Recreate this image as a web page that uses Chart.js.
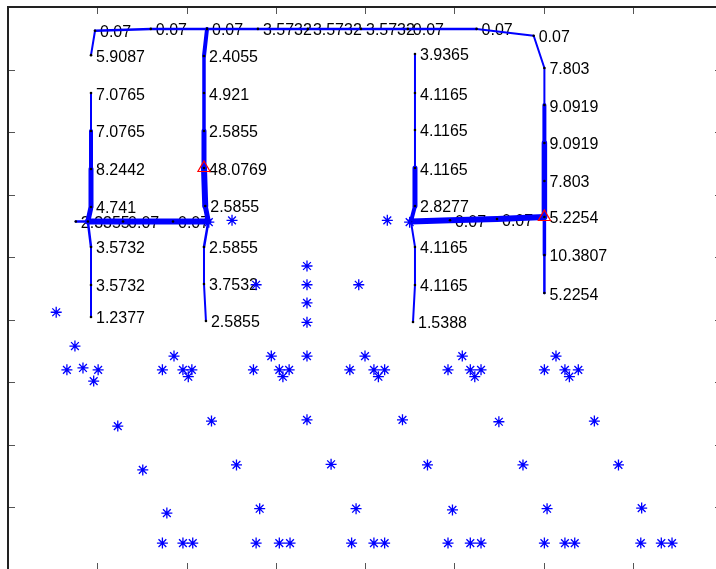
<!DOCTYPE html>
<html>
<head>
<meta charset="utf-8">
<script src="https://cdn.jsdelivr.net/npm/chart.js@4.4.0/dist/chart.umd.min.js"></script>
<style>
  html, body { margin: 0; padding: 0; background: #fff; width: 716px; height: 569px; overflow: hidden; }
  #wrap { position: absolute; left: 0; top: 0; width: 740px; height: 590px; }
</style>
</head>
<body>
<div id="wrap"><canvas id="c" width="740" height="590"></canvas></div>
<script>
// Axis frame: x runs 0..8, y runs 0 (top) .. 9 (bottom)
const xTicks = [1, 2, 3, 4, 5, 6, 7];
const yTicks = [1, 2, 3, 4, 5, 6, 7, 8];

// Upper route: head of the left branch, across the top, then down the right column
const routeTopX = [0.93, 0.975, 1.60, 2.23, 2.80, 3.36, 3.955, 4.48, 5.25, 5.89, 6.01, 6.01, 6.01, 6.01, 6.01, 6.01, 6.01];
const routeTopY = [0.77, 0.38, 0.35, 0.35, 0.35, 0.35, 0.35, 0.35, 0.35, 0.46, 0.975, 1.567, 2.174, 2.781, 3.357, 3.964, 4.572];
const routeTopLabels = ['5.9087', '0.07', '0.07', '0.07', '3.5732', '3.5732', '3.5732', '0.07', '0.07', '0.07',
                        '7.803', '9.0919', '9.0919', '7.803', '5.2254', '10.3807', '5.2254'];
const routeTopWidths = [2, 2.5, 2.5, 2.5, 2.5, 2.5, 2.5, 2.5, 2, 2, 2, 4, 5.5, 5.5, 3.5, 2.5];

// Left column
const routeAX = [0.93, 0.93, 0.93, 0.93, 0.895, 0.93, 0.93, 0.93];
const routeAY = [1.375, 1.982, 2.589, 3.197, 3.43, 3.836, 4.444, 4.955];
const routeALabels = ['7.0765', '7.0765', '8.2442', '4.741', null, '3.5732', '3.5732', '1.2377'];
const routeAWidths = [2, 4, 5, 5, 2.5, 2, 2];

// Second column
const routeBX = [2.23, 2.196, 2.196, 2.196, 2.196, 2.21, 2.245, 2.196, 2.196, 2.218];
const routeBY = [0.35, 0.783, 1.375, 1.982, 2.574, 3.181, 3.43, 3.836, 4.428, 5.019];
const routeBLabels = [null, '2.4055', '4.921', '2.5855', '48.0769', '2.5855', null, '2.5855', '3.7532', '2.5855'];
const routeBWidths = [4, 3.5, 3.5, 5, 6, 5, 2.5, 2, 2];

// Cross link between the left and second columns
const crossABX = [0.76, 0.895, 1.289, 1.849, 2.245];
const crossABY = [3.43, 3.43, 3.43, 3.43, 3.43];
const crossABLabels = ['2.3355', null, '0.07', '0.07', null];
const crossABWidths = [2.5, 6, 6, 6];

// Third column
const routeCX = [4.56, 4.56, 4.56, 4.56, 4.56, 4.515, 4.56, 4.56, 4.538];
const routeCY = [0.751, 1.375, 1.966, 2.574, 3.181, 3.43, 3.836, 4.444, 5.035];
const routeCLabels = ['3.9365', '4.1165', '4.1165', '4.1165', '2.8277', null, '4.1165', '4.1165', '1.5388'];
const routeCWidths = [2, 2, 2, 5, 4, 2, 2, 2];

// Cross link between the third and right columns
const crossCDX = [4.515, 4.952, 5.479, 6.01];
const crossCDY = [3.43, 3.41, 3.389, 3.357];
const crossCDLabels = [null, '0.07', '0.07', null];
const crossCDWidths = [6, 6, 6];

// Flagged nodes
const flagX = [2.196, 6.01];
const flagY = [2.574, 3.357];

// Scattered sites
const siteX = [0.54, 2.51, 4.25, 2.25, 4.50, 3.35, 3.35, 3.35, 3.35, 2.78, 3.93,
  0.75, 0.66, 0.84, 1.01, 0.96, 1.23, 1.51,
  1.73, 1.86, 1.96, 2.06, 2.02, 2.28, 1.78, 1.73, 1.96, 2.07,
  2.75, 2.95, 3.04, 3.15, 3.08, 3.35, 3.35, 2.56, 2.82, 2.78, 3.04, 3.16,
  3.83, 3.62, 3.90, 3.85,
  4.00, 4.10, 4.22, 4.15, 4.42, 4.70, 4.10, 4.22,
  4.93, 5.09, 5.18, 5.30, 5.23, 5.50, 5.77, 4.98, 4.93, 5.18, 5.30,
  6.01, 6.14, 6.24, 6.39, 6.29, 6.57, 6.84, 6.04, 6.01, 6.24, 6.35,
  7.10, 7.09, 7.32, 7.44];
const siteY = [4.88, 3.41, 3.41, 3.44, 3.44, 4.14, 4.44, 4.73, 5.04, 4.44, 4.44,
  5.42, 5.80, 5.77, 5.80, 5.98, 6.70, 7.40,
  5.80, 5.58, 5.80, 5.80, 5.91, 6.62, 8.09, 8.57, 8.57, 8.57,
  5.80, 5.58, 5.80, 5.80, 5.91, 5.58, 6.60, 7.32, 8.02, 8.57, 8.57, 8.57,
  5.80, 7.31, 8.02, 8.57,
  5.58, 5.80, 5.80, 5.91, 6.60, 7.32, 8.57, 8.57,
  5.80, 5.58, 5.80, 5.80, 5.91, 6.63, 7.32, 8.04, 8.57, 8.57, 8.57,
  5.80, 5.58, 5.80, 5.80, 5.91, 6.62, 7.32, 8.02, 8.57, 8.57, 8.57,
  8.01, 8.57, 8.57, 8.57];

const BLUE = 'rgb(0,0,255)';
const zip = (xs, ys) => xs.map((x, i) => ({ x, y: ys[i] }));

function route(xs, ys, labels, widths) {
  return {
    data: zip(xs, ys),
    nodeLabels: labels,
    showLine: true,
    borderColor: BLUE,
    borderWidth: 2,
    borderCapStyle: 'round',
    borderJoinStyle: 'round',
    segment: { borderWidth: ctx => widths[ctx.p0DataIndex] },
    pointStyle: 'circle',
    pointRadius: 1.3,
    pointBackgroundColor: '#000',
    pointBorderWidth: 0,
    order: 3
  };
}

// Node value text, drawn beneath the routes
const nodeText = {
  id: 'nodeText',
  beforeDatasetsDraw(chart) {
    const ctx = chart.ctx;
    ctx.save();
    ctx.font = '16px "Liberation Sans", Arial, sans-serif';
    ctx.fillStyle = '#000';
    ctx.textAlign = 'left';
    ctx.textBaseline = 'alphabetic';
    chart.data.datasets.forEach((ds, i) => {
      if (!ds.nodeLabels) return;
      const meta = chart.getDatasetMeta(i);
      meta.data.forEach((pt, j) => {
        const t = ds.nodeLabels[j];
        if (t) ctx.fillText(t, pt.x + 5, pt.y + 6.5);
      });
    });
    ctx.restore();
  }
};

// Axes box with inward tick marks
const frame = {
  id: 'frame',
  afterDraw(chart) {
    const { ctx, chartArea: a, scales: { x, y } } = chart;
    ctx.save();
    ctx.strokeStyle = '#555';
    ctx.lineWidth = 1;
    const len = 7;
    ctx.beginPath();
    xTicks.forEach(v => {
      const px = Math.round(x.getPixelForValue(v)) + 0.5;
      ctx.moveTo(px, a.top); ctx.lineTo(px, a.top + len);
      ctx.moveTo(px, a.bottom); ctx.lineTo(px, a.bottom - len);
    });
    yTicks.forEach(v => {
      const py = Math.round(y.getPixelForValue(v)) + 0.5;
      ctx.moveTo(a.left, py); ctx.lineTo(a.left + len, py);
      ctx.moveTo(a.right, py); ctx.lineTo(a.right - len, py);
    });
    ctx.stroke();
    ctx.strokeStyle = '#222';
    ctx.lineWidth = 2;
    ctx.strokeRect(a.left, a.top, a.right - a.left, a.bottom - a.top);
    ctx.restore();
  }
};

new Chart(document.getElementById('c'), {
  type: 'scatter',
  data: {
    datasets: [
      {
        data: zip(flagX, flagY),
        pointStyle: 'triangle',
        pointRadius: 7,
        borderColor: 'rgb(255,0,0)',
        borderWidth: 1.2,
        backgroundColor: 'rgba(0,0,0,0)',
        order: 1
      },
      {
        data: zip(siteX, siteY),
        pointStyle: 'star',
        pointRadius: 5.5,
        borderColor: BLUE,
        borderWidth: 1.3,
        backgroundColor: BLUE,
        order: 2
      },
      route(routeTopX, routeTopY, routeTopLabels, routeTopWidths),
      route(routeAX, routeAY, routeALabels, routeAWidths),
      route(routeBX, routeBY, routeBLabels, routeBWidths),
      route(crossABX, crossABY, crossABLabels, crossABWidths),
      route(routeCX, routeCY, routeCLabels, routeCWidths),
      route(crossCDX, crossCDY, crossCDLabels, crossCDWidths)
    ]
  },
  options: {
    responsive: false,
    animation: false,
    events: [],
    layout: { autoPadding: false, padding: { left: 8, top: 7, right: 18, bottom: 20 } },
    scales: {
      x: { type: 'linear', min: 0, max: 8, display: false },
      y: { type: 'linear', min: 0, max: 9, reverse: true, display: false }
    },
    plugins: { legend: { display: false }, tooltip: { enabled: false } }
  },
  plugins: [nodeText, frame]
});
</script>
</body>
</html>
